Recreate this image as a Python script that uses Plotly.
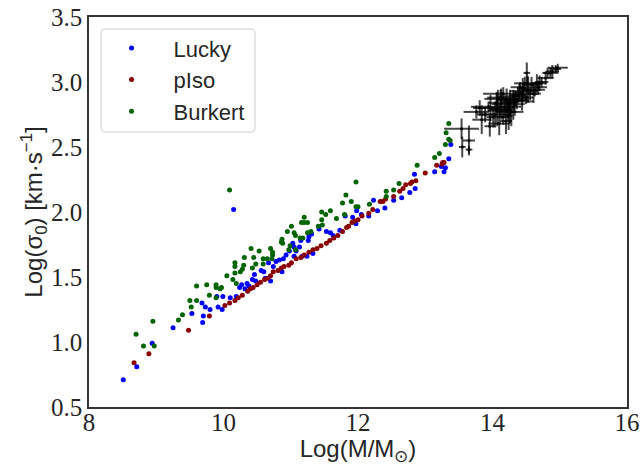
import plotly.graph_objects as go

# ---------------- data ----------------
lucky_x = [10.15, 9.90, 9.99, 10.10, 10.19, 9.68, 9.73, 9.92, 9.98, 9.80, 9.53, 9.70, 9.69, 9.25,
           8.94, 8.71, 8.51,
           11.42, 11.53, 11.59, 11.63, 11.73, 11.31, 11.27, 11.26, 11.15, 11.03, 11.05, 11.13, 11.08,
           10.98, 10.93, 11.05, 11.17, 11.24, 11.33, 10.83, 10.89, 10.78, 10.74, 10.87, 10.67, 10.60,
           10.56, 10.46, 10.43, 10.48, 10.35, 10.38, 10.27, 10.24, 10.32, 10.62, 10.70,
           13.38, 13.35, 13.24, 13.30, 13.28, 13.14, 12.84, 12.85, 12.77, 12.65, 12.53, 12.40, 12.23,
           12.29, 11.98, 11.81, 12.16, 12.05, 11.92, 11.97]
lucky_y = [2.02, 1.35, 1.35, 1.34, 1.35, 1.30, 1.27, 1.27, 1.25, 1.25, 1.22, 1.20, 1.15, 1.11,
           0.99, 0.81, 0.71,
           1.87, 1.85, 1.84, 1.82, 1.86, 1.83, 1.81, 1.78, 1.78, 1.76, 1.73, 1.73, 1.70,
           1.70, 1.67, 1.66, 1.66, 1.66, 1.68, 1.63, 1.64, 1.62, 1.58, 1.54, 1.61, 1.54,
           1.55, 1.52, 1.48, 1.47, 1.45, 1.43, 1.44, 1.42, 1.41, 1.49, 1.47,
           2.52, 2.41, 2.35, 2.34, 2.31, 2.31, 2.29, 2.18, 2.15, 2.11, 2.09, 2.03, 2.09,
           2.01, 2.01, 1.97, 1.97, 1.98, 1.96, 1.91]

piso_x = [8.67, 8.89, 9.48, 9.79, 10.02, 10.09, 10.17, 10.22, 10.28, 10.36, 10.40, 10.44, 10.50,
          10.55, 10.61, 10.66, 10.70, 10.74, 10.81, 10.86, 10.90, 10.97, 11.01, 11.08, 11.15, 11.20,
          11.27, 11.33, 11.39, 11.45, 11.53, 11.58, 11.64, 11.70, 11.77, 11.83, 11.86, 11.91, 11.95,
          12.00, 12.06, 12.16, 12.22, 12.33, 12.37, 12.41, 12.53, 12.62, 12.67, 12.71, 12.78, 12.80,
          12.86, 13.00, 13.17, 13.25, 13.26, 13.28]
piso_y = [0.84, 0.91, 1.09, 1.20, 1.28, 1.30, 1.32, 1.34, 1.36, 1.39, 1.41, 1.42, 1.44,
          1.46, 1.48, 1.49, 1.51, 1.54, 1.55, 1.57, 1.58, 1.59, 1.61, 1.64, 1.65, 1.67,
          1.69, 1.71, 1.72, 1.74, 1.76, 1.78, 1.80, 1.82, 1.85, 1.88, 1.89, 1.92, 1.93,
          1.94, 1.97, 1.99, 2.02, 2.08, 2.08, 2.10, 2.12, 2.16, 2.18, 2.21, 2.22, 2.23,
          2.24, 2.30, 2.36, 2.37, 2.38, 2.38]

burkert_x = [10.09, 10.17, 10.17, 10.17, 10.05, 10.14, 10.19, 9.60, 9.75, 9.89, 9.89, 9.95, 9.97,
             9.79, 9.89, 9.50, 9.60, 9.52, 9.39, 9.33, 8.95, 8.70, 8.81, 8.97,
             11.82, 11.77, 11.20, 11.46, 11.52, 11.59, 11.80, 11.68, 11.46, 11.16, 11.20, 11.25,
             11.41, 11.01, 11.47, 10.95, 11.05, 11.07, 11.14, 11.30, 11.25, 10.87, 10.86, 10.88,
             10.99, 11.18, 10.70, 10.73, 10.97, 11.07, 10.41, 10.53, 10.59, 10.65, 10.73, 10.72,
             10.45, 10.31, 10.48, 10.43, 10.28, 10.25, 10.30, 10.59,
             13.35, 13.31, 13.35, 13.37, 13.30, 13.21, 13.14, 12.88, 11.97, 12.61, 12.53, 12.42,
             12.42, 11.90, 12.00, 11.97, 12.17]
burkert_y = [2.17, 1.61, 1.58, 1.53, 1.51, 1.48, 1.45, 1.43, 1.44, 1.44, 1.42, 1.41, 1.42,
             1.36, 1.34, 1.32, 1.32, 1.27, 1.21, 1.17, 1.16, 1.06, 0.97, 0.97,
             2.13, 2.07, 1.96, 2.00, 1.98, 2.01, 1.98, 1.95, 1.94, 1.92, 1.92, 1.92,
             1.89, 1.89, 1.90, 1.85, 1.84, 1.82, 1.80, 1.85, 1.84, 1.79, 1.77, 1.76,
             1.74, 1.80, 1.72, 1.69, 1.71, 1.71, 1.72, 1.70, 1.64, 1.64, 1.67, 1.64,
             1.65, 1.65, 1.60, 1.57, 1.56, 1.54, 1.59, 1.60,
             2.68, 2.61, 2.56, 2.55, 2.52, 2.45, 2.42, 2.36, 2.23, 2.22, 2.17, 2.16,
             2.12, 2.08, 2.04, 2.04, 2.06]

obs_x = [13.54, 13.55, 13.65, 13.65, 13.96, 13.84, 13.76, 13.81, 13.94, 14.06, 14.11, 14.16,
         14.08, 14.21, 14.26, 14.31, 14.38, 14.41, 14.48, 14.51, 14.53, 14.58, 14.61, 14.63,
         14.70, 14.79, 14.82, 14.89, 14.94, 14.97, 14.26, 14.18, 14.31, 14.36, 14.44, 14.56,
         14.66, 14.73, 14.04, 13.89, 14.16, 14.01, 14.10, 14.28, 14.46, 14.52, 14.86, 13.97,
         14.13, 14.23, 14.34, 14.20, 14.07, 14.40, 14.50, 14.33, 14.24, 14.12, 14.45, 14.68]
obs_y = [2.64, 2.50, 2.55, 2.48, 2.66, 2.71, 2.77, 2.80, 2.81, 2.84, 2.78, 2.73,
         2.87, 2.86, 2.84, 2.89, 2.90, 2.96, 2.99, 3.07, 2.94, 2.98, 2.91, 2.94,
         2.99, 3.03, 3.07, 3.08, 3.10, 3.11, 2.77, 2.81, 2.81, 2.85, 2.86, 2.91,
         2.99, 3.00, 2.75, 2.75, 2.91, 2.73, 2.68, 2.77, 2.93, 2.98, 3.07, 2.80,
         2.83, 2.79, 2.87, 2.70, 2.79, 2.92, 2.88, 2.83, 2.74, 2.88, 2.95, 2.96]
obs_xerr = [0.26, 0.05, 0.09, 0.05, 0.08, 0.14, 0.19, 0.10, 0.26, 0.12, 0.18, 0.07,
            0.20, 0.15, 0.10, 0.22, 0.12, 0.14, 0.16, 0.05, 0.10, 0.12, 0.08, 0.15,
            0.10, 0.12, 0.06, 0.10, 0.08, 0.15, 0.20, 0.08, 0.12, 0.25, 0.10, 0.16,
            0.08, 0.10, 0.22, 0.12, 0.30, 0.10, 0.16, 0.08, 0.20, 0.09, 0.12, 0.18,
            0.14, 0.10, 0.18, 0.09, 0.12, 0.07, 0.11, 0.15, 0.06, 0.20, 0.09, 0.13]
obs_yerr = [0.08, 0.08, 0.115, 0.03, 0.08, 0.11, 0.05, 0.06, 0.04, 0.08, 0.05, 0.06,
            0.07, 0.09, 0.10, 0.05, 0.06, 0.04, 0.05, 0.08, 0.10, 0.06, 0.07, 0.05,
            0.06, 0.05, 0.04, 0.05, 0.03, 0.03, 0.09, 0.07, 0.10, 0.06, 0.08, 0.05,
            0.07, 0.04, 0.10, 0.06, 0.05, 0.08, 0.09, 0.11, 0.06, 0.07, 0.04, 0.10,
            0.12, 0.08, 0.06, 0.10, 0.13, 0.07, 0.05, 0.09, 0.11, 0.06, 0.08, 0.05]

x_ticks = [8, 10, 12, 14, 16]
y_ticks = [0.5, 1.0, 1.5, 2.0, 2.5, 3.0, 3.5]

TEXT = "#262626"
SANS = "Liberation Sans, Arial, sans-serif"
SERIF = "Liberation Serif, Times New Roman, serif"

fig = go.Figure()

fig.add_trace(go.Scatter(
    x=obs_x, y=obs_y, mode="markers", showlegend=False,
    marker=dict(color="black", size=3),
    error_x=dict(type="data", array=obs_xerr, color="rgba(0,0,0,0.72)", thickness=2, width=0),
    error_y=dict(type="data", array=obs_yerr, color="rgba(0,0,0,0.72)", thickness=2, width=0),
))

for name, xs, ys, col in [("Lucky", lucky_x, lucky_y, "#0000ff"),
                          ("pIso", piso_x, piso_y, "#8b0000"),
                          ("Burkert", burkert_x, burkert_y, "#006400")]:
    fig.add_trace(go.Scatter(x=xs, y=ys, mode="markers", name=name,
                             marker=dict(color=col, size=5, line=dict(width=0))))

axis_common = dict(showgrid=False, zeroline=False, showline=True, mirror=True,
                   linecolor="#333333", linewidth=1.6, ticks="",
                   tickfont=dict(family=SERIF, size=25, color=TEXT))

# legend frame (rounded box, like matplotlib's legend frame)
bx0, bx1, by0, by1 = 0.0223, 0.3086, 0.705, 0.969
rx, ry = 0.008, 0.011
box_path = (f"M {bx0+rx},{by1} L {bx1-rx},{by1} Q {bx1},{by1} {bx1},{by1-ry} "
            f"L {bx1},{by0+ry} Q {bx1},{by0} {bx1-rx},{by0} L {bx0+rx},{by0} "
            f"Q {bx0},{by0} {bx0},{by0+ry} L {bx0},{by1-ry} Q {bx0},{by1} {bx0+rx},{by1} Z")

fig.update_layout(
    width=644, height=466,
    margin=dict(l=89, r=17, t=17, b=59),
    paper_bgcolor="white", plot_bgcolor="white",
    xaxis=dict(range=[8, 16], tickvals=x_ticks, ticktext=[str(t) for t in x_ticks],
               title=dict(text="Log(M/M<sub>⊙</sub>)", font=dict(family=SANS, size=24, color=TEXT),
                          standoff=4),
               ticklabelstandoff=-8,
               automargin=False, **axis_common),
    yaxis=dict(range=[0.5, 3.5], tickvals=y_ticks, ticktext=[f"{t:.1f}" for t in y_ticks],
               title=dict(text="Log(σ<sub>0</sub>) [km·s<sup>−1</sup>]",
                          font=dict(family=SANS, size=24, color=TEXT), standoff=0),
               automargin=False, **axis_common),
    shapes=[dict(type="path", xref="paper", yref="paper", path=box_path, layer="above",
                 line=dict(color="#cccccc", width=1), fillcolor="rgba(255,255,255,0.8)")],
    legend=dict(x=0.001, y=0.974, xanchor="left", yanchor="top",
                font=dict(family=SANS, size=22, color=TEXT),
                borderwidth=0, bgcolor="rgba(0,0,0,0)",
                itemwidth=74),
    showlegend=True,
)

fig.write_html("out.html", config={"displayModeBar": False},
               post_script="document.body.style.margin='0';document.body.style.padding='0';")
